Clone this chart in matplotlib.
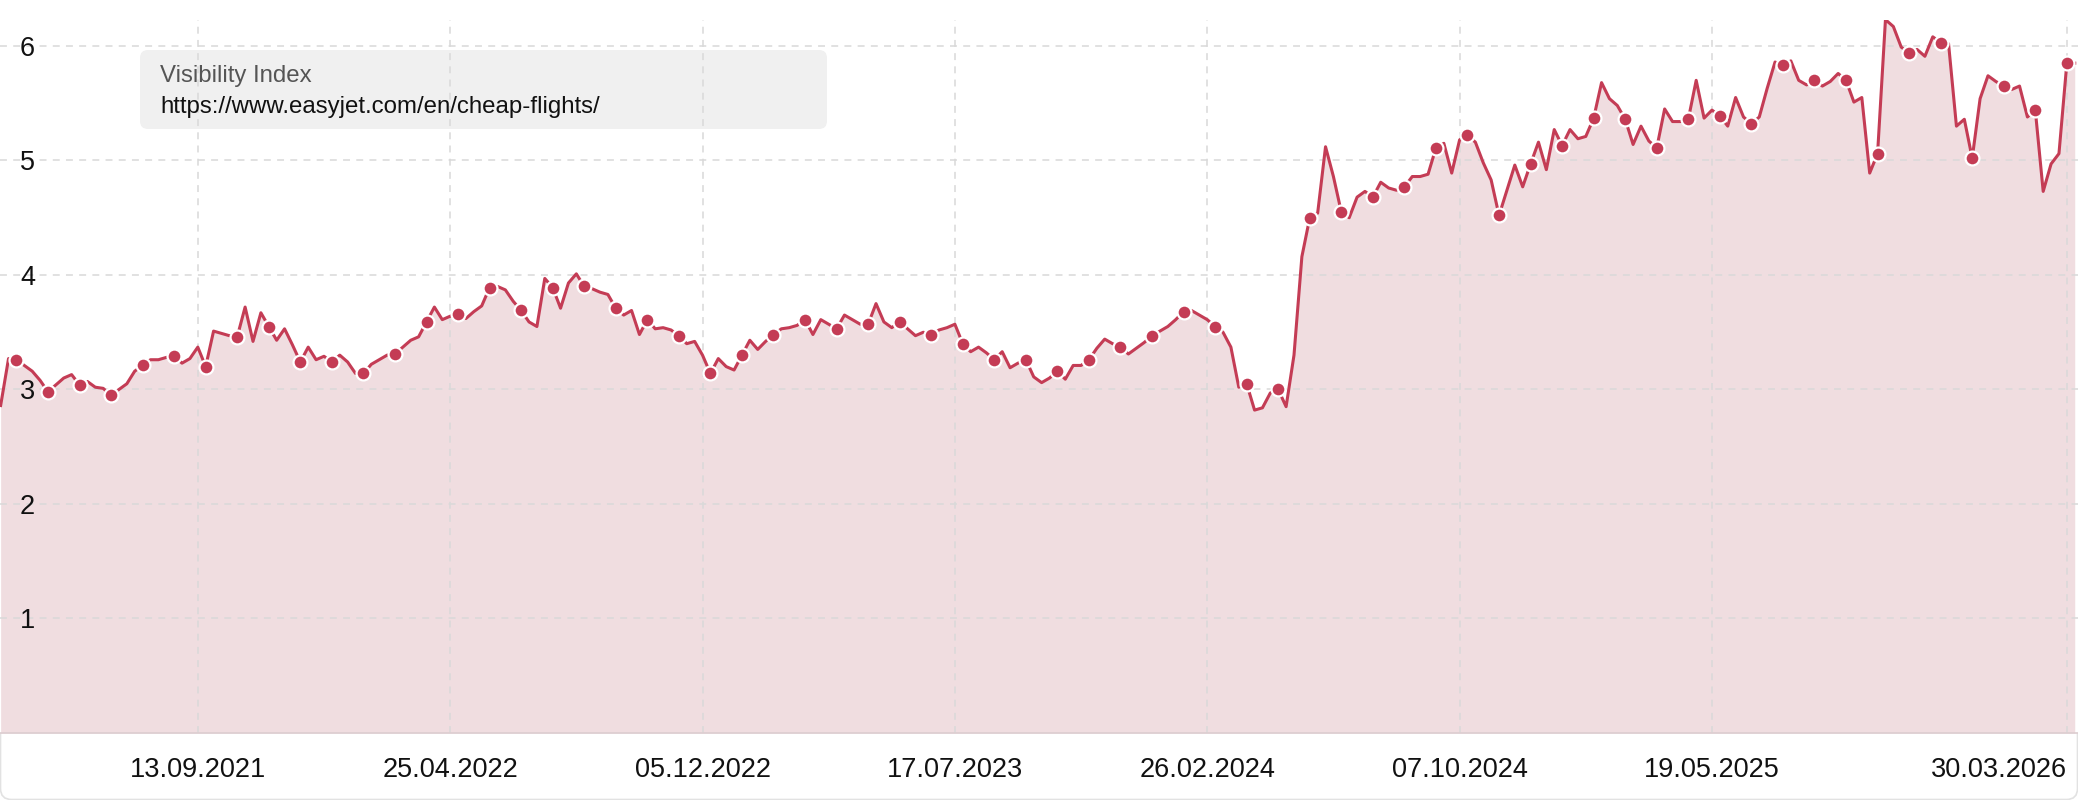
import matplotlib
matplotlib.use("Agg")
import matplotlib.pyplot as plt
import matplotlib.transforms as mtransforms
from matplotlib.patches import FancyBboxPatch
import numpy as np
import pandas as pd

plt.rcParams['font.family'] = ['Liberation Sans', 'DejaVu Sans']
plt.rcParams['lines.scale_dashes'] = False

# weekly Visibility Index values, first week starts 22.03.2021
start_date = "2021-03-22"
visibility = [
    2.86, 3.27, 3.26, 3.21, 3.16, 3.08, 2.98, 3.04, 3.10, 3.13,
    3.04, 3.07, 3.02, 3.01, 2.95, 3.00, 3.05, 3.16, 3.21, 3.26,
    3.26, 3.28, 3.29, 3.23, 3.27, 3.37, 3.20, 3.51, 3.49, 3.47,
    3.46, 3.72, 3.42, 3.67, 3.55, 3.43, 3.53, 3.39, 3.24, 3.37,
    3.26, 3.29, 3.24, 3.30, 3.24, 3.14, 3.14, 3.22, 3.26, 3.30,
    3.31, 3.37, 3.43, 3.46, 3.59, 3.72, 3.61, 3.64, 3.66, 3.62,
    3.68, 3.73, 3.89, 3.90, 3.87, 3.77, 3.69, 3.59, 3.55, 3.97,
    3.89, 3.71, 3.93, 4.01, 3.90, 3.88, 3.85, 3.83, 3.71, 3.65,
    3.69, 3.48, 3.61, 3.53, 3.54, 3.52, 3.47, 3.40, 3.42, 3.30,
    3.14, 3.27, 3.20, 3.17, 3.30, 3.43, 3.35, 3.42, 3.48, 3.53,
    3.54, 3.56, 3.61, 3.48, 3.61, 3.57, 3.53, 3.65, 3.61, 3.57,
    3.57, 3.75, 3.59, 3.54, 3.59, 3.53, 3.47, 3.50, 3.48, 3.52,
    3.54, 3.57, 3.40, 3.33, 3.37, 3.32, 3.26, 3.33, 3.19, 3.23,
    3.26, 3.11, 3.06, 3.10, 3.16, 3.09, 3.21, 3.21, 3.26, 3.36,
    3.44, 3.40, 3.37, 3.31, 3.36, 3.41, 3.47, 3.51, 3.55, 3.61,
    3.68, 3.69, 3.65, 3.61, 3.55, 3.50, 3.37, 3.02, 3.05, 2.82,
    2.84, 2.97, 3.00, 2.85, 3.30, 4.16, 4.50, 4.54, 5.12, 4.86,
    4.55, 4.50, 4.68, 4.73, 4.68, 4.81, 4.76, 4.74, 4.77, 4.86,
    4.86, 4.88, 5.11, 5.15, 4.89, 5.18, 5.22, 5.16, 4.98, 4.83,
    4.52, 4.74, 4.96, 4.77, 4.97, 5.16, 4.92, 5.27, 5.13, 5.27,
    5.19, 5.21, 5.37, 5.68, 5.54, 5.48, 5.36, 5.14, 5.30, 5.17,
    5.11, 5.45, 5.34, 5.34, 5.36, 5.70, 5.37, 5.44, 5.39, 5.30,
    5.55, 5.38, 5.32, 5.38, 5.63, 5.86, 5.83, 5.87, 5.70, 5.66,
    5.70, 5.65, 5.69, 5.76, 5.70, 5.51, 5.55, 4.89, 5.06, 6.23,
    6.17, 5.99, 5.94, 5.97, 5.91, 6.08, 6.03, 6.02, 5.30, 5.36,
    5.02, 5.54, 5.74, 5.69, 5.65, 5.62, 5.65, 5.38, 5.44, 4.73,
    4.97, 5.06, 5.85, 5.85,
]
x_ticks = ["2021-09-13", "2022-04-25", "2022-12-05", "2023-07-17",
           "2024-02-26", "2024-10-07", "2025-05-19", "2026-03-30"]
y_ticks = [1, 2, 3, 4, 5, 6]
legend_title = "Visibility Index"
legend_url = "https://www.easyjet.com/en/cheap-flights/"

LINE = "#c43c55"
FILL = "#f0dde0"
GRID = "#d9d9d9"

dates = pd.date_range(start_date, periods=len(visibility), freq="7D")
tick_dates = pd.to_datetime(x_ticks)

W, H = 2078, 800
fig = plt.figure(figsize=(W / 100, H / 100), dpi=100, facecolor="white")

# card outline: only the rounded bottom corners peek out below the axes
card = FancyBboxPatch((0.5, 0.5), W - 1, 120, boxstyle="round,pad=0,rounding_size=11",
                      transform=mtransforms.IdentityTransform(), facecolor="none",
                      edgecolor="#e2e2e2", linewidth=1.2, zorder=-1)
fig.patches.append(card)

ax = fig.add_axes([0, 67 / H, 1, 713 / H])
ax.set_facecolor("white")

ax.fill_between(dates, visibility, 0, color=FILL, linewidth=0, zorder=0.4)
ax.plot(dates, visibility, color=LINE, linewidth=2.2, zorder=3,
        marker="o", markevery=slice(2, None, 4), markersize=10,
        markerfacecolor=LINE, markeredgecolor="white", markeredgewidth=1.6)

t0 = tick_dates[0]
ax.set_xlim(t0 - pd.Timedelta(days=175.57), t0 + pd.Timedelta(days=1668.9))
ax.set_ylim(0, 6.227)

ax.set_axisbelow(True)
ax.set_xticks(tick_dates)
ax.set_xticklabels([d.strftime("%d.%m.%Y") for d in tick_dates], fontsize=19.5, color="#111111")
ax.get_xticklabels()[-1].set_horizontalalignment("right")
ax.set_yticks(y_ticks)
ax.set_yticklabels([])
ax.tick_params(axis="both", length=0)
ax.tick_params(axis="x", pad=17)
ax.grid(True, color=GRID, linewidth=1.1, linestyle=(0, (5, 4.5)))

for s in ["top", "left", "right"]:
    ax.spines[s].set_visible(False)
ax.spines["bottom"].set_color("#dccdd0")
ax.spines["bottom"].set_linewidth(1.2)

# y labels sit inside the plot area
off = mtransforms.ScaledTranslation(0, -10 / 100, fig.dpi_scale_trans)
for v in y_ticks:
    ax.text(27.5 / W, v, str(v), transform=ax.get_yaxis_transform() + off,
            ha="center", va="baseline", fontsize=19.5, color="#111111", zorder=5)

# legend box
box = FancyBboxPatch((140, H - 129), 687, 79, boxstyle="round,pad=0,rounding_size=8",
                     transform=mtransforms.IdentityTransform(), facecolor="#f0f0f0",
                     edgecolor="none", zorder=0.45)
ax.add_artist(box)
ax.text(160, H - 81.7, legend_title, transform=mtransforms.IdentityTransform(),
        fontsize=17.3, color="#555555", va="baseline", ha="left", zorder=5)
ax.text(160, H - 113.3, legend_url, transform=mtransforms.IdentityTransform(),
        fontsize=17.3, color="#111111", va="baseline", ha="left", zorder=5)

fig.savefig("out.png", dpi=100, facecolor="white")
